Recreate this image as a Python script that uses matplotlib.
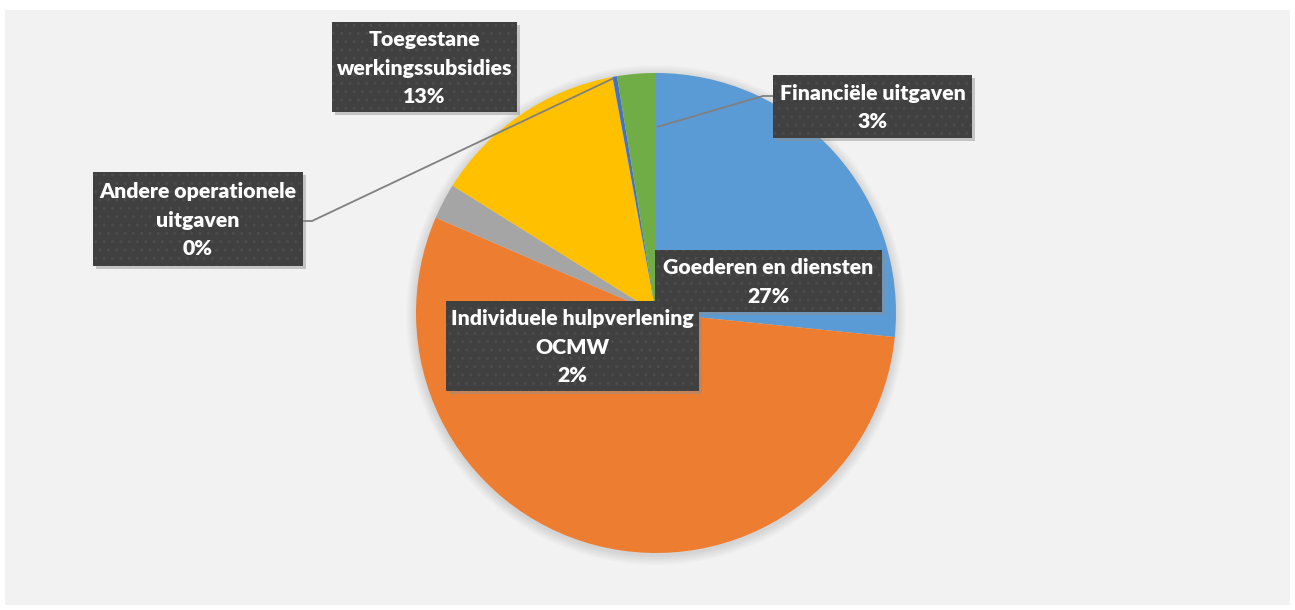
import numpy as np
import matplotlib.pyplot as plt
from matplotlib.patches import Rectangle, Circle

W, H = 1295, 610

# slice data, clockwise from 12 o'clock
categories = ["Goederen en diensten", "", "Individuele hulpverlening\nOCMW",
              "Toegestane\nwerkingssubsidies", "Andere operationele\nuitgaven",
              "Financiële uitgaven"]
shares = [26.6, 54.9, 2.4, 13.2, 0.3, 2.6]
colors = ["#5B9BD5", "#ED7D31", "#A5A5A5", "#FFC000", "#4472C4", "#70AD47"]

# label boxes in pixels (left, top, right, bottom), None = no label shown
boxes = [(655, 250, 882, 312), None, (446, 301, 699, 391),
         (332, 22, 517, 112), (93, 172, 303, 266), (773, 75, 972, 138)]
# leader lines in pixels, keyed by slice index
leaders = {4: [(614, 78), (312, 221), (303, 221)],
           5: [(657, 127), (763, 96), (773, 96)]}

CX, CY, R = 656, 313, 240


def px(x, y):
    # pixel coords (origin top-left) -> axes data coords (y up)
    return x, H - y


fig = plt.figure(figsize=(W / 100, H / 100), dpi=100)
fig.patch.set_facecolor("white")
ax = fig.add_axes([0, 0, 1, 1])

# soft glow behind the pie
for k in range(10, 0, -1):
    ax.add_patch(Circle(px(CX, CY + 2), R + k, color="black", alpha=0.012, lw=0, zorder=1))

ax.pie(shares, colors=colors, startangle=90, counterclock=False,
       center=px(CX, CY), radius=R, wedgeprops=dict(lw=0, zorder=2))

ax.set_xlim(0, W)
ax.set_ylim(0, H)
ax.set_aspect("auto")
ax.axis("off")

# chart area background
ax.add_patch(Rectangle(px(5, 605), 1285, 595, fc="#F2F2F2", ec="none", zorder=0))

for i, pts in leaders.items():
    xs, ys = zip(*[px(*p) for p in pts])
    ax.plot(xs, ys, color="#808080", lw=1.3, zorder=3, solid_capstyle="butt")

plt.rcParams["hatch.linewidth"] = 1.1
for i, b in enumerate(boxes):
    if b is None:
        continue
    l, t, r, btm = b
    ax.add_patch(Rectangle(px(l + 3, btm + 3), r - l, btm - t, fc="#8c8c8c",
                           alpha=0.45, ec="none", zorder=4))
    ax.add_patch(Rectangle(px(l, btm), r - l, btm - t, fc="#404040", ec="#4b4b4b",
                           lw=0, hatch="..", zorder=5))
    txt = f"{categories[i]}\n{round(shares[i]):d}%"
    ax.text(*px((l + r) / 2, (t + btm) / 2 + 1), txt, ha="center", va="center",
            color="white", fontsize=15.3, fontweight="heavy", family="Lato",
            linespacing=1.62, zorder=6)

fig.savefig("out.png", dpi=100)
